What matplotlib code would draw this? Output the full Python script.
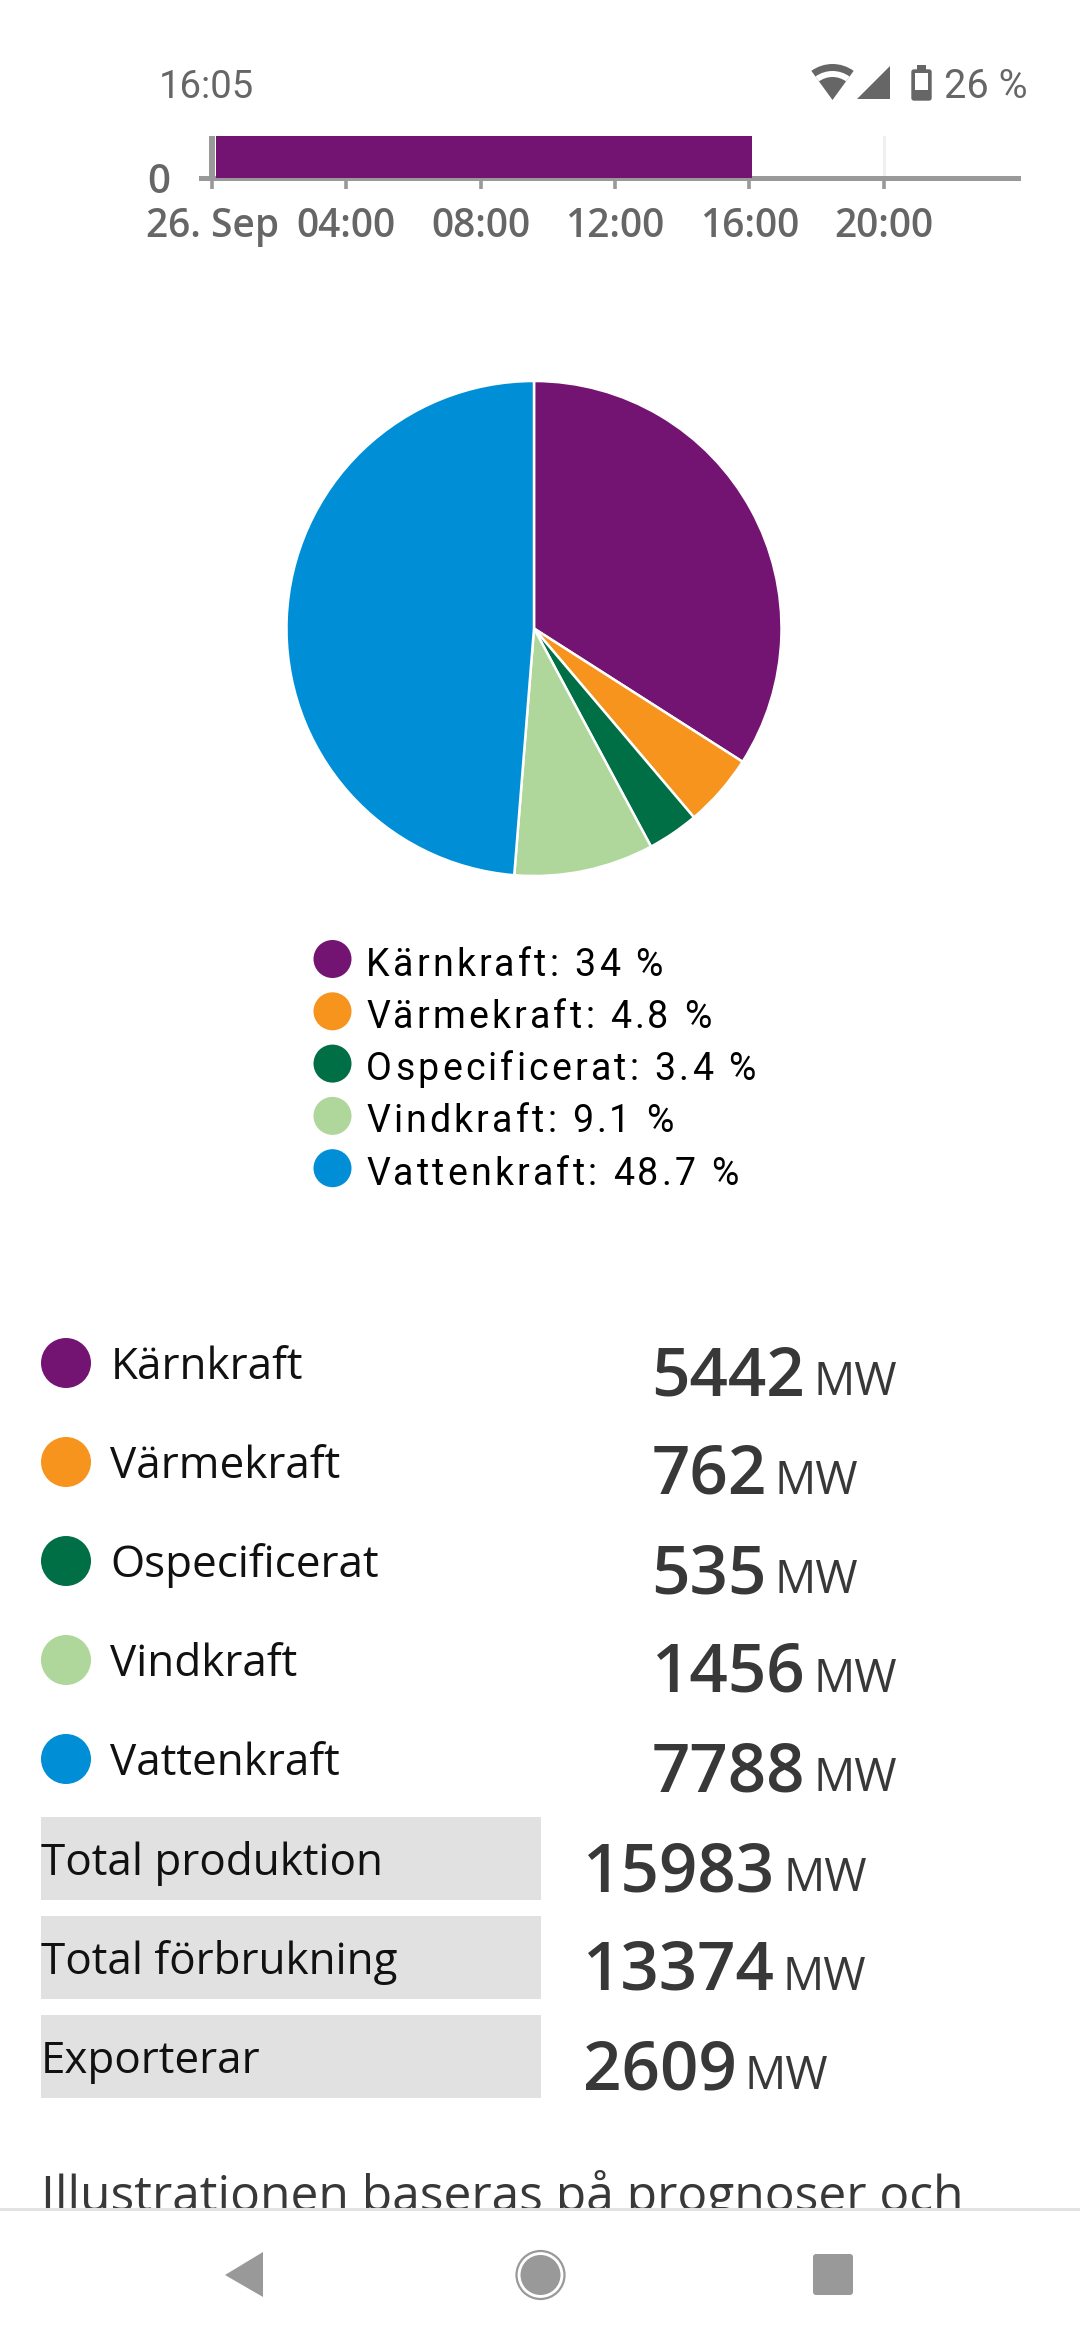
"""Power production screen: hourly bar strip, pie with legend and a MW table."""
import matplotlib
matplotlib.use('Agg')
import matplotlib.pyplot as plt
from matplotlib.patches import Circle, FancyBboxPatch, Polygon, Rectangle, Wedge
from matplotlib.text import Text
from matplotlib.transforms import IdentityTransform

W, H = 1080, 2340

# data
sources = ['Kärnkraft', 'Värmekraft', 'Ospecificerat', 'Vindkraft', 'Vattenkraft']
source_mw = [5442, 762, 535, 1456, 7788]
source_pct = ['34', '4.8', '3.4', '9.1', '48.7']
source_colors = ['#731472', '#F7941E', '#006F46', '#AFD69B', '#008FD7']

total_labels = ['Total produktion', 'Total förbrukning', 'Exporterar']
total_mw = [15983, 13374, 2609]

hour_ticks = [0, 4, 8, 12, 16, 20]
hour_labels = ['26. Sep', '04:00', '08:00', '12:00', '16:00', '20:00']
bar_start = [0.12]
bar_end = [16.08]
bar_level = [1]

GREY_TEXT = '#666666'
GREY_AXIS = '#999999'
DARK = '#383838'


class SpacedText(Text):
    """Text with letter spacing, matplotlib has no option for it."""

    def __init__(self, *args, spacing=0, **kwargs):
        super().__init__(*args, **kwargs)
        self.spacing = spacing

    def draw(self, renderer):
        s = self.get_text()
        fp = self.get_fontproperties()
        x0, y0 = self.get_transform().transform(self.get_position())
        for i, ch in enumerate(s):
            if ch == ' ':
                continue
            w_all = renderer.get_text_width_height_descent(s[:i + 1], fp, False)[0]
            w_ch = renderer.get_text_width_height_descent(ch, fp, False)[0]
            t = Text(x0 + w_all - w_ch + i * self.spacing, y0, ch, fontproperties=fp,
                     color=self.get_color(), va='baseline', ha='left',
                     transform=IdentityTransform())
            t.set_figure(self.get_figure())
            t.draw(renderer)


def px_axes(fig, x0, y0, x1, y1, **kwargs):
    """Axes placed with screen pixels, y counted from the top."""
    return fig.add_axes([x0 / W, 1 - y1 / H, (x1 - x0) / W, (y1 - y0) / H], **kwargs)


fig = plt.figure(figsize=(W / 100, H / 100), dpi=100, facecolor='white')

# page layer in pixel coordinates
ui = fig.add_axes([0, 0, 1, 1])
ui.set_xlim(0, W)
ui.set_ylim(H, 0)
ui.axis('off')

# status bar
ui.text(159, 98, '16:05', family='Roboto', fontsize=27.5, color=GREY_TEXT, va='baseline')
ui.text(944, 98, '26 %', family='Roboto', fontsize=28.5, color=GREY_TEXT, va='baseline')
ui.add_patch(Wedge((832.5, 100), 36, 270 - 36, 270 + 36, color=GREY_TEXT, lw=0))
ui.add_patch(Wedge((832.5, 100), 29, 270 - 36, 270 + 36, width=6, color='white', lw=0))
ui.add_patch(Polygon([(890, 66), (890, 99), (857, 99)], color=GREY_TEXT, lw=0))
ui.add_patch(FancyBboxPatch((912, 70), 19, 30, boxstyle='round,pad=0,rounding_size=2',
                            fc=GREY_TEXT, ec=GREY_TEXT, lw=1))
ui.add_patch(Rectangle((917, 65), 9, 5, color=GREY_TEXT, lw=0))
ui.add_patch(Rectangle((915, 73), 13, 17, color='white', lw=0))

# bar strip, the top of it is scrolled away
ax = px_axes(fig, 201, 136, 1018, 178)
ax.patch.set_alpha(0)
ax.bar(bar_start, bar_level, width=[e - s for s, e in zip(bar_start, bar_end)],
       align='edge', color=source_colors[0], zorder=3)
ax.set_xlim(-0.33, 24)
ax.set_ylim(0, 1)
ax.axvline(0, color=GREY_AXIS, lw=4.3, zorder=2)
ax.set_xticks(hour_ticks)
ax.set_xticklabels(hour_labels, family='Open Sans', fontsize=28, fontweight=600, color=GREY_TEXT)
ax.set_yticks([0])
ax.set_yticklabels(['0'], family='Open Sans', fontsize=29, fontweight=600, color=GREY_TEXT)
ax.tick_params(axis='x', length=8, width=2.6, color=GREY_AXIS, pad=13)
ax.tick_params(axis='y', length=0, pad=22)
ax.grid(axis='x', color='#EFEFEF', lw=2, zorder=1)
for name in ['top', 'left', 'right']:
    ax.spines[name].set_visible(False)
ax.spines['bottom'].set_color(GREY_AXIS)
ax.spines['bottom'].set_linewidth(3.6)

# pie
cx, cy, r = 534, 628.5, 247.5
pie_ax = px_axes(fig, cx - r - 4, cy - r - 4, cx + r + 4, cy + r + 4)
pie_ax.pie(source_mw, colors=source_colors, startangle=90, counterclock=False, radius=r,
           wedgeprops={'edgecolor': 'white', 'linewidth': 1.8})
pie_ax.set_xlim(-r - 4, r + 4)
pie_ax.set_ylim(-r - 4, r + 4)

# pie legend
for i, (name, pct, color) in enumerate(zip(sources, source_pct, source_colors)):
    ui.add_patch(Circle((332.5, 959 + i * 52.3), 19, color=color, lw=0))
    ui.add_artist(SpacedText(366, 975.5 + i * 52.3, f'{name}: {pct} %', spacing=3.2,
                             family='Roboto', fontsize=27, color='black', va='baseline'))

# MW table
renderer = fig.canvas.get_renderer()


def value_with_unit(x, y, value):
    t = ui.text(x, y, str(value), family='Open Sans', fontsize=48.5, fontweight=600,
                color=DARK, va='baseline')
    x1 = ui.transData.inverted().transform(t.get_window_extent(renderer))[1, 0]
    ui.text(x1 + 8, y, 'MW', family='Open Sans', fontsize=33, fontweight=500, color=DARK,
            va='baseline')


for i, (name, value, color) in enumerate(zip(sources, source_mw, source_colors)):
    ui.add_patch(Circle((66, 1363 + i * 99), 25, color=color, lw=0))
    ui.text(110.5, 1379 + i * 99, name, family='Open Sans', fontsize=31.7, color='#111111',
            va='baseline')
    value_with_unit(651.5, 1395 + i * 99, value)

for i, (name, value) in enumerate(zip(total_labels, total_mw)):
    ui.add_patch(Rectangle((41, 1817 + i * 99), 500, 83, color='#E1E1E1', lw=0))
    ui.text(41, 1875 + i * 99, name, family='Open Sans', fontsize=31.7, color='#111111',
            va='baseline')
    value_with_unit(583, 1891 + i * 99, value)

ui.text(41, 2211, 'Illustrationen baseras på prognoser och', family='Open Sans', fontsize=35.8,
        color=DARK, va='baseline', zorder=1)

# navigation bar on top of the cut off paragraph
ui.add_patch(Rectangle((0, 2209), W, H - 2209, fc='white', ec='none', zorder=5))
ui.plot([0, W], [2209, 2209], color='#E3E3E3', lw=2.2, zorder=6)
ui.add_patch(Polygon([(263, 2252), (263, 2297), (225, 2275)], color=GREY_AXIS, lw=0, zorder=6))
ui.add_patch(Circle((540.5, 2275), 20, color=GREY_AXIS, lw=0, zorder=6))
ui.add_patch(Circle((540.5, 2275), 24, fc='none', ec=GREY_AXIS, lw=1.6, zorder=6))
ui.add_patch(FancyBboxPatch((813, 2254), 40, 41, boxstyle='round,pad=0,rounding_size=3',
                            fc=GREY_AXIS, ec='none', zorder=6))
ui.set_xlim(0, W)
ui.set_ylim(H, 0)

fig.savefig('out.png', dpi=100)
